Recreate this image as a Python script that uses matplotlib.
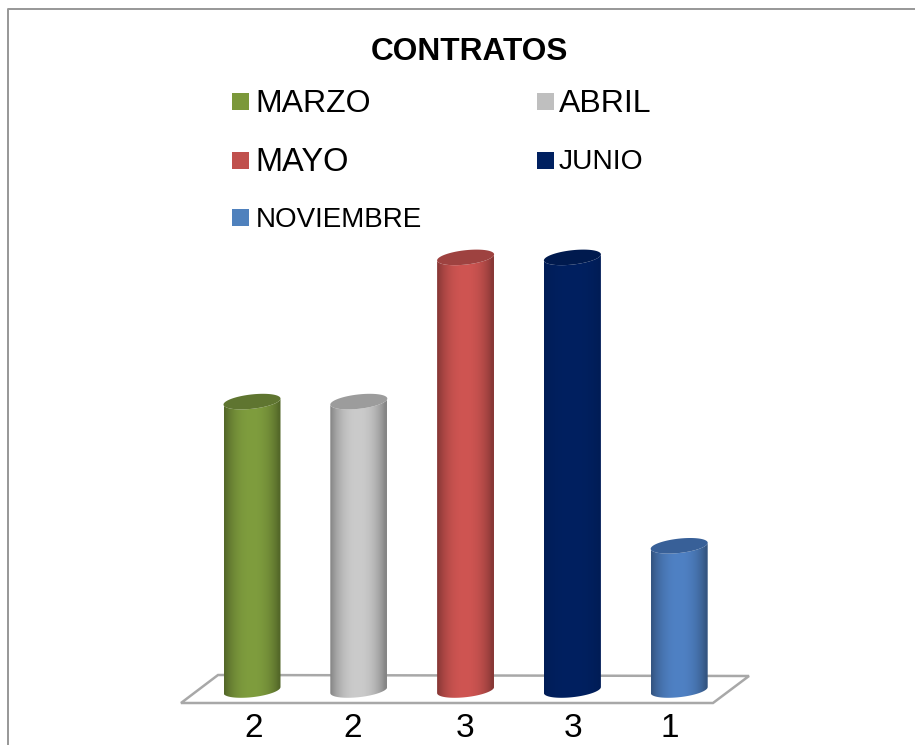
import numpy as np
import matplotlib
matplotlib.use("Agg")
import matplotlib.pyplot as plt
from matplotlib.colors import to_rgb
from matplotlib.patches import Polygon, Rectangle
from matplotlib.transforms import Affine2D

title = "CONTRATOS"
months = ["MARZO", "ABRIL", "MAYO", "JUNIO", "NOVIEMBRE"]
values = [2, 2, 3, 3, 1]
value_labels = ["2", "2", "3", "3", "1"]
colors = ["#7F9D3E", "#CBCBCB", "#CF5552", "#002060", "#4F81C4"]
cap_colors = ["#5F7530", "#9C9C9C", "#9E4240", "#001A4E", "#386098"]

W, H = 915, 745
fig = plt.figure(figsize=(W / 100, H / 100), dpi=100, facecolor="white")
ax = fig.add_axes([0, 0, 1, 1])
ax.set_axis_off()

# scales: category spacing and value unit in pixels
X0, DX = 252.0, 106.8
Y0, DY = 690.0, 144.2
ax.set_xlim(-X0 / DX, (W - X0) / DX)
ax.set_ylim(-(H - Y0) / DY, Y0 / DY)

px = Affine2D().scale(1, -1).translate(0, H)  # pixel coords from top left
FONT = ["Liberation Sans", "DejaVu Sans"]

# chart frame, cut off by the image at right and bottom
ax.add_line(plt.Line2D([8.0, 8.0, W + 5], [H + 5, 9.0, 9.0], transform=px,
                       color="#979797", lw=1.4, clip_on=False))

# floor
ax.add_patch(Polygon([(181, 703), (713, 703), (749, 676), (218, 675)], closed=True,
                     transform=px, fill=False, ec="#A8A8A8", lw=1.8, joinstyle="miter"))

# cylinders
half_w = 28.5 / DX
b = 7.2 / DY
s = 3.0 / DY
t = np.linspace(0, 2 * np.pi, 181)
u = np.linspace(-1, 1, 256)
shade = 0.66 + 0.34 * np.clip(1 - (np.abs(u + 0.02) / 0.95) ** 2.2, 0, 1) ** 0.9

for i, (v, c, cc) in enumerate(zip(values, colors, cap_colors)):
    ts = np.linspace(np.pi, 2 * np.pi, 60)  # front half of the ellipse
    base_x = i + half_w * np.cos(ts)
    base_y = b * np.sin(ts) + s * np.cos(ts)
    top_x = (i + half_w * np.cos(ts))[::-1]
    top_y = (v + b * np.sin(ts) + s * np.cos(ts))[::-1]
    body = Polygon(np.r_[np.c_[base_x, base_y], np.c_[top_x, top_y]], closed=True,
                   transform=ax.transData, fc="none", ec="none")
    ax.add_patch(body)
    base = np.array(to_rgb(c))
    f = shade if c != "#002060" else 0.9 + 0.1 * (shade - 0.66) / 0.34
    grad = (f[None, :, None] * base[None, None, :]).clip(0, 1)
    im = ax.imshow(grad, extent=(i - half_w, i + half_w, -1, v + 1), aspect="auto",
                   interpolation="bilinear", zorder=3)
    im.set_clip_path(body)
    ax.fill(i + half_w * np.cos(t), v + b * np.sin(t) + s * np.cos(t), fc=cc, ec="none", zorder=4)

ax.set_xlim(-X0 / DX, (W - X0) / DX)
ax.set_ylim(-(H - Y0) / DY, Y0 / DY)

# value labels under the floor
label_x = [254, 353, 465, 573, 670]
for x, lab in zip(label_x, value_labels):
    ax.text(x, 725, lab, transform=px, ha="center", va="center_baseline",
            fontsize=24, family=FONT, color="black")

# title
ax.text(469, 48, title, transform=px, ha="center", va="center_baseline",
        fontsize=22.8, weight="bold", family=FONT, color="black")

# legend
leg_sq = [(232, 93), (537, 93), (232, 152), (537, 152), (232, 209)]
leg_txt = [(255, 101), (559, 101), (255, 159), (559, 159), (256, 217)]
leg_fs = [23, 23, 23.5, 20.3, 20]
leg_col = ["#7B983A", "#BFBFBF", "#C0504D", "#002060", "#4F81BD"]
for m, sq, tx, fs, c in zip(months, leg_sq, leg_txt, leg_fs, leg_col):
    ax.add_patch(Rectangle(sq, 17, 17, transform=px, fc=c, ec="none"))
    ax.text(tx[0], tx[1], m, transform=px, ha="left", va="center_baseline",
            fontsize=fs, family=FONT, color="black")

fig.savefig("out.png", dpi=100, facecolor="white")
